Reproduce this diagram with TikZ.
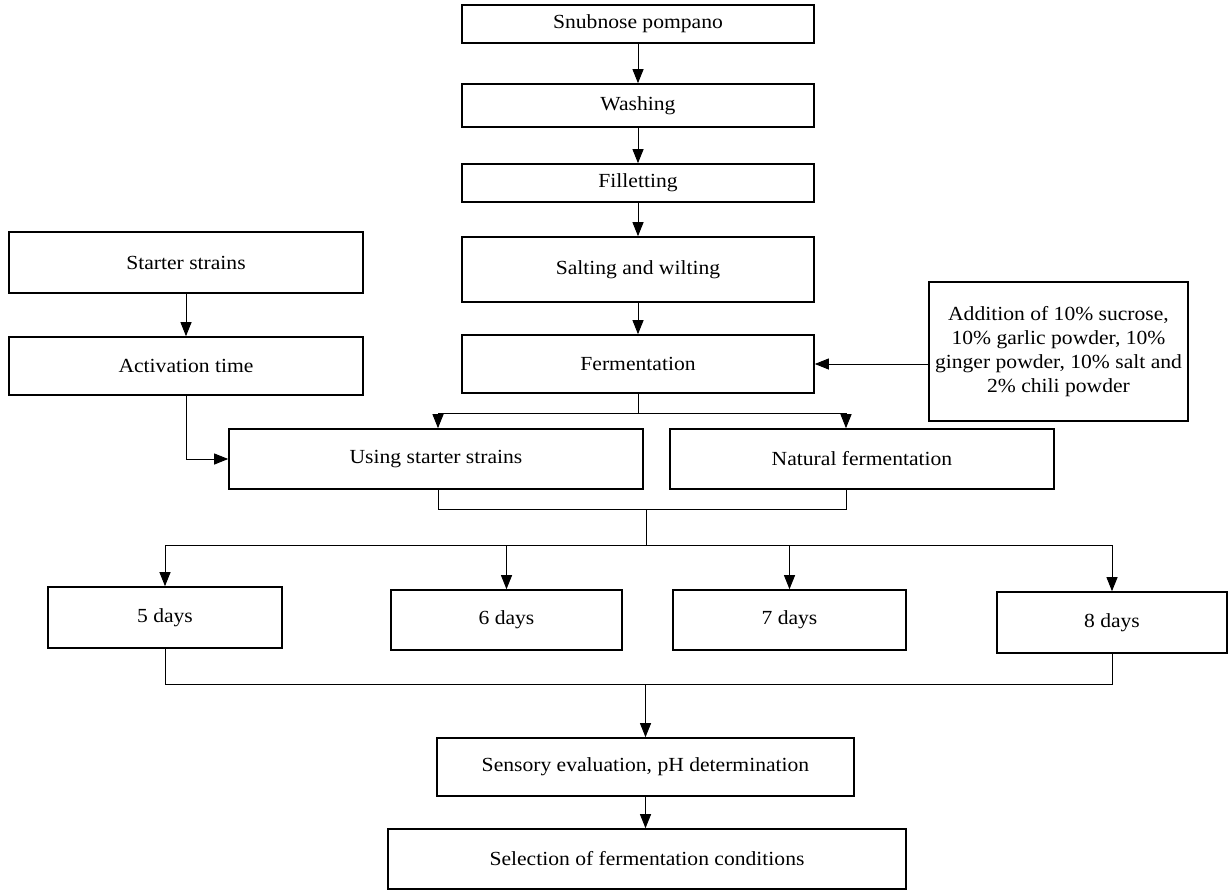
\documentclass[tikz,border=0pt]{standalone}
\usepackage{fontspec}
\setmainfont{Liberation Serif}[FakeStretch=1.08]
\usetikzlibrary{arrows.meta}
\begin{document}
\begin{tikzpicture}[x=1pt,y=-1pt,
  box/.style={draw, line width=1.6pt, inner sep=2pt, align=center, font=\fontsize{20}{24}\selectfont},
  conn/.style={line width=0.9pt},
  arr/.style={conn, -{Triangle[length=14pt,width=11pt]}}]
\useasboundingbox (0,0) rectangle (1229,894);
\node[box, minimum width=352pt, minimum height=38pt] (snub) at (638,24) {Snubnose pompano};
\node[box, minimum width=352pt, minimum height=43pt] (wash) at (638,105.5) {Washing};
\node[box, minimum width=352pt, minimum height=38pt] (fil) at (638,183) {Filletting};
\node[box, minimum width=352pt, minimum height=65pt] (salt) at (638,269.5) {Salting and wilting};
\node[box, minimum width=352pt, minimum height=58pt] (ferm) at (638,364) {Fermentation};
\node[box, minimum width=354pt, minimum height=61pt] (start) at (186,262.5) {Starter strains};
\node[box, minimum width=354pt, minimum height=58pt] (activ) at (186,366) {Activation time};
\node[box, minimum width=259pt, minimum height=139pt, inner sep=0pt] (add) at (1058.5,351.5) {Addition of 10\% sucrose,\\10\% garlic powder, 10\%\\ginger powder, 10\% salt and\\2\% chili powder};
\node[box, minimum width=414pt, minimum height=60pt] (using) at (436,459) {Using starter strains};
\node[box, minimum width=384pt, minimum height=60pt] (nat) at (862,459) {Natural fermentation};
\node[box, minimum width=234pt, minimum height=61pt] (d5) at (165,617.5) {5 days};
\node[box, minimum width=231pt, minimum height=60pt] (d6) at (506.5,620) {6 days};
\node[box, minimum width=233pt, minimum height=60pt] (d7) at (789.5,620) {7 days};
\node[box, minimum width=230pt, minimum height=61pt] (d8) at (1112,622.5) {8 days};
\node[box, minimum width=417pt, minimum height=58pt] (sens) at (645.5,767) {Sensory evaluation, pH determination};
\node[box, minimum width=518pt, minimum height=60pt] (sel) at (647,859) {Selection of fermentation conditions};
% vertical chain
\draw[arr] (snub) -- (wash);
\draw[arr] (wash) -- (fil);
\draw[arr] (fil) -- (salt);
\draw[arr] (salt) -- (ferm);
\draw[arr] (start) -- (activ);
\draw[arr] (add.west |- ferm.east) -- (ferm.east);
% split after fermentation
\coordinate (fs) at (638,413);
\coordinate (fl) at (438,413);
\coordinate (fr) at (846,413);
\draw[conn] (ferm.south) -- (fs);
\draw[arr] (fs) -- (fl) -- (fl |- using.north);
\draw[arr] (fs) -- (fr) -- (fr |- nat.north);
% activation to using
\coordinate (ab) at (186,459);
\draw[arr] (activ.south) -- (ab) -- (using.west);
% merge using/natural
\coordinate (ml) at (438,509);
\coordinate (mr) at (846,509);
\coordinate (mc) at (646,509);
\coordinate (bus) at (646,545);
\draw[conn] (ml |- using.south) -- (ml) -- (mr) -- (mr |- nat.south);
\draw[conn] (mc) -- (bus);
\coordinate (b5) at (165,545);
\coordinate (b8) at (1112,545);
\draw[conn] (b5) -- (b8);
\draw[arr] (b5) -- (d5.north);
\draw[arr] (506.5,545) -- (d6.north);
\draw[arr] (789.5,545) -- (d7.north);
\draw[arr] (b8) -- (d8.north);
% merge days
\coordinate (e5) at (165,684);
\coordinate (e8) at (1112,684);
\coordinate (ec) at (645.5,684);
\draw[conn] (d5.south) -- (e5) -- (e8) -- (d8.south);
\draw[arr] (ec) -- (sens.north);
\draw[arr] (sens.south) -- (sens.south |- sel.north);
\end{tikzpicture}
\end{document}
